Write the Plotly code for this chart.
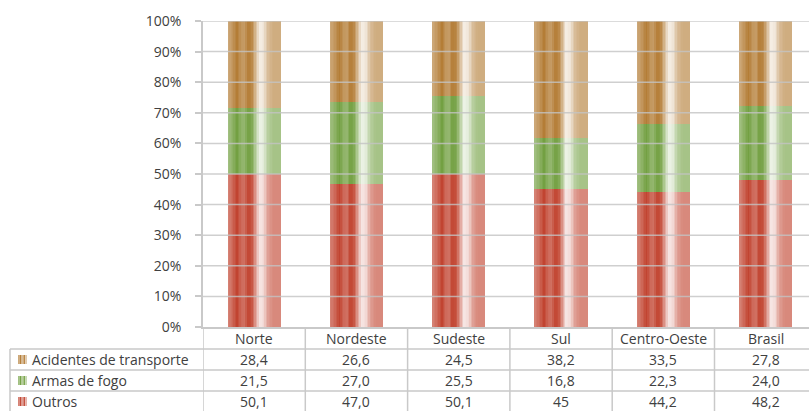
import numpy as np
import plotly.graph_objects as go

# ---- data -------------------------------------------------------------
regioes = ["Norte", "Nordeste", "Sudeste", "Sul", "Centro-Oeste", "Brasil"]
series_nomes = ["Acidentes de transporte", "Armas de fogo", "Outros"]
acidentes = [28.4, 26.6, 24.5, 38.2, 33.5, 27.8]
armas = [21.5, 27.0, 25.5, 16.8, 22.3, 24.0]
outros = [50.1, 47.0, 50.1, 45, 44.2, 48.2]
y_ticks = [0, 0.1, 0.2, 0.3, 0.4, 0.5, 0.6, 0.7, 0.8, 0.9, 1.0]

# ---- style ------------------------------------------------------------
W, H = 809, 411
ML, MR, MT, MB = 203, 0, 21, 84
FONT = "Open Sans"
FS = 14
TXT = "#404040"
GRID = "#c9c9c9"
base_cor = {
    "Outros": (192, 64, 44),
    "Armas de fogo": (112, 158, 62),
    "Acidentes de transporte": (178, 122, 50),
}
# lightness profile across the bar (0 = base colour, 1 = white)
perfil_pos = [0.0, 0.1, 0.18, 0.26, 0.32, 0.38, 0.45, 0.52, 0.6, 0.68, 0.76, 0.86, 1.0]
perfil_mix = [0.36, 0.2, 0.02, 0.22, 0.25, 0.03, 0.08, 0.45, 0.88, 0.8, 0.5, 0.38, 0.38]

BAR_W = 0.52
N_STRIPES = 36


def mistura(rgb, t):
    r, g, b = (int(round(c + (255 - c) * t)) for c in rgb)
    return f"rgb({r},{g},{b})"


fmt = lambda v: str(v).replace(".", ",")

xs = list(range(len(regioes)))
tot = np.array(acidentes) + np.array(armas) + np.array(outros)
p_out = np.array(outros) / tot
p_arm = np.array(armas) / tot
p_aci = np.array(acidentes) / tot

camadas = [
    ("Outros", p_out, np.zeros(len(xs))),
    ("Armas de fogo", p_arm, p_out),
    ("Acidentes de transporte", p_aci, p_out + p_arm),
]

fig = go.Figure()
sw = BAR_W / N_STRIPES
for nome, vals, base in camadas:
    for k in range(N_STRIPES):
        f = (k + 0.5) / N_STRIPES
        t = float(np.interp(f, perfil_pos, perfil_mix))
        largura = sw * (1.5 if k < N_STRIPES - 1 else 1.0)
        fig.add_trace(go.Bar(
            x=xs, y=vals, base=base,
            width=[largura] * len(xs),
            offset=[-BAR_W / 2 + k * sw] * len(xs),
            marker=dict(color=mistura(base_cor[nome], t), line=dict(width=0)),
            showlegend=False, hoverinfo="skip",
        ))

plot_w = W - ML - MR

shapes = []
# gridlines drawn over the bars
for v in y_ticks[1:]:
    shapes.append(dict(type="line", xref="paper", yref="y", x0=0, x1=1, y0=v, y1=v,
                       line=dict(color="rgba(195,195,195,0.8)", width=1.5), layer="above"))

# data table below the plot
linha = dict(color=GRID, width=1.5)
x_left = -(ML - 10) / plot_w
row_px = [0, -22, -43, -64, -85]
for yp in row_px[1:4]:
    shapes.append(dict(type="line", xref="paper", yref="paper", ysizemode="pixel", yanchor=0,
                       x0=x_left, x1=1, y0=yp, y1=yp, line=linha))
# column separators
for i in range(len(xs)):
    xv = i - 0.5
    shapes.append(dict(type="line", xref="x", yref="paper", ysizemode="pixel", yanchor=0,
                       x0=xv, x1=xv, y0=0, y1=-90, line=linha))
shapes.append(dict(type="line", xref="paper", yref="paper", ysizemode="pixel", yanchor=0,
                   x0=x_left, x1=x_left, y0=-22, y1=-90, line=linha))

annotations = []
for i, r in enumerate(regioes):
    annotations.append(dict(x=i, y=0, xref="x", yref="paper", yshift=-11, text=r,
                            showarrow=False, xanchor="center", yanchor="middle",
                            font=dict(family=FONT, size=FS, color=TXT)))

tabela = [("Acidentes de transporte", acidentes), ("Armas de fogo", armas), ("Outros", outros)]
for j, (nome, vals) in enumerate(tabela):
    yc = (row_px[j + 1] + row_px[j + 2]) / 2
    for i, v in enumerate(vals):
        annotations.append(dict(x=i, y=0, xref="x", yref="paper", yshift=yc, text=fmt(v),
                                showarrow=False, xanchor="center", yanchor="middle",
                                font=dict(family=FONT, size=FS, color=TXT)))
    # row label
    annotations.append(dict(x=x_left + 20 / plot_w, y=0, xref="paper", yref="paper", yshift=yc,
                            text=nome, showarrow=False, xanchor="left", yanchor="middle",
                            font=dict(family=FONT, size=FS, color=TXT)))
    # small striped legend key
    x0k = x_left + 8 / plot_w
    key_mix = [0.35, 0.05, 0.5, 0.1, 0.6]
    for s, t in enumerate(key_mix):
        shapes.append(dict(type="rect", xref="paper", yref="paper", ysizemode="pixel", yanchor=0,
                           x0=x0k + (s * 1.8) / plot_w, x1=x0k + ((s + 1) * 1.8) / plot_w,
                           y0=yc - 4.5, y1=yc + 4.5, line=dict(width=0),
                           fillcolor=mistura(base_cor[nome], t)))

fig.update_layout(
    width=W, height=H,
    margin=dict(l=ML, r=MR, t=MT, b=MB, pad=0),
    paper_bgcolor="white", plot_bgcolor="white",
    barmode="overlay", bargap=0,
    font=dict(family=FONT, size=FS, color=TXT),
    xaxis=dict(range=[-0.5, -0.5 + plot_w / 102.3], showticklabels=False, showgrid=False,
               zeroline=False, showline=True, linecolor=GRID, linewidth=1.5, ticks="",
               fixedrange=True),
    yaxis=dict(range=[0, 1], tickvals=y_ticks, tickformat=".0%", showgrid=False, zeroline=False,
               showline=True, linecolor=GRID, linewidth=1.5, ticks="outside", ticklen=6,
               tickcolor=GRID, tickwidth=1.5, ticklabelstandoff=11,
               tickfont=dict(family=FONT, size=FS, color=TXT), fixedrange=True),
    shapes=shapes,
    annotations=annotations,
)

fig.write_html("out.html")
